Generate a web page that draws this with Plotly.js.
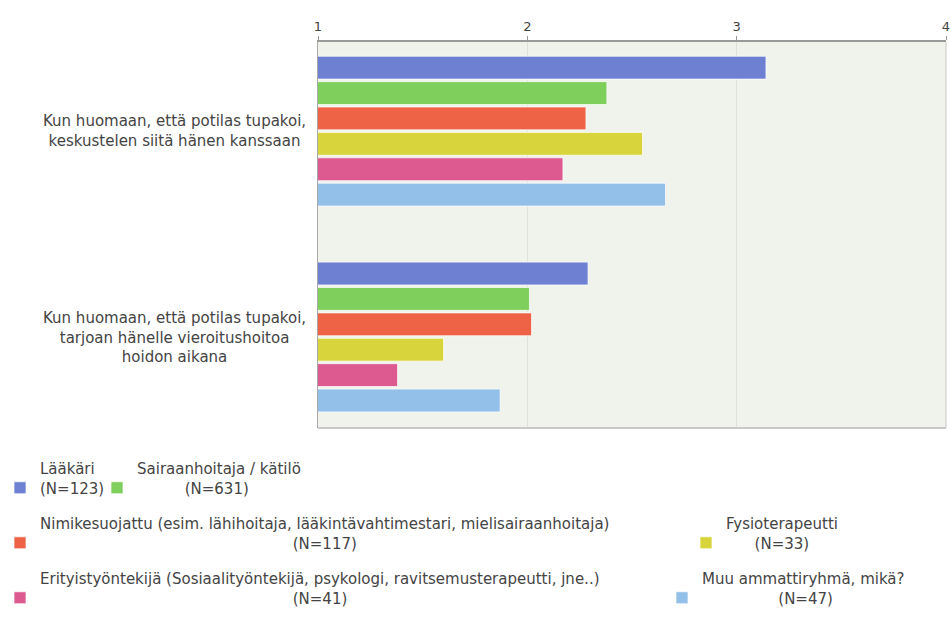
<!DOCTYPE html>
<html>
<head>
<meta charset="utf-8">
<script src="https://cdn.plot.ly/plotly-3.0.1.min.js"></script>
<style>html,body{margin:0;padding:0;background:#fff;}#chart{width:950px;height:621px;}</style>
</head>
<body>
<div id="chart"></div>
<script>
const categories = [
  "Kun huomaan, että potilas tupakoi,<br>keskustelen siitä hänen kanssaan",
  "Kun huomaan, että potilas tupakoi,<br>tarjoan hänelle vieroitushoitoa<br>hoidon aikana"
];
const seriesLabels = [
  "Lääkäri",
  "Sairaanhoitaja / kätilö",
  "Nimikesuojattu (esim. lähihoitaja, lääkintävahtimestari, mielisairaanhoitaja)",
  "Fysioterapeutti",
  "Erityistyöntekijä (Sosiaalityöntekijä, psykologi, ravitsemusterapeutti, jne..)",
  "Muu ammattiryhmä, mikä?"
];
const seriesN = ["(N=123)", "(N=631)", "(N=117)", "(N=33)", "(N=41)", "(N=47)"];
const lakari = [3.14, 2.29];
const sairaanhoitaja = [2.38, 2.01];
const nimikesuojattu = [2.28, 2.02];
const fysioterapeutti = [2.55, 1.60];
const erityistyontekija = [2.17, 1.38];
const muu = [2.66, 1.87];
const tickValues = [1, 2, 3, 4];

const seriesValues = [lakari, sairaanhoitaja, nimikesuojattu, fysioterapeutti, erityistyontekija, muu];
const colors = ["#6e80d2", "#7fcf5c", "#ee6346", "#d8d53c", "#dc5a90", "#92c0e8"];
// non-breaking-space padding to centre the second legend line under the first
const nPad = [0, 10, 53, 6, 53, 16];
// legend placement (container pixels)
const legPos = [[0, 452], [97, 452], [0, 507], [686, 507], [0, 562], [662, 562]];

const legendIds = seriesValues.map((_, i) => i === 0 ? "legend" : "legend" + (i + 1));

const traces = seriesValues.map((vals, i) => ({
  type: "bar",
  orientation: "h",
  name: seriesLabels[i] + "<br>" + "\u00a0".repeat(nPad[i]) + seriesN[i],
  y: categories,
  x: vals,
  legend: legendIds[i],
  marker: {color: colors[i], line: {color: "rgba(255,255,255,0.7)", width: 1}},
  hoverinfo: "x+name"
}));

const FONT = "DejaVu Sans, Verdana, sans-serif";
const W = 950, H = 621;

const layout = {
  width: W, height: H,
  margin: {l: 318, r: 4, t: 42, b: 193, autoexpand: false},
  paper_bgcolor: "#ffffff",
  plot_bgcolor: "#f0f3ec",
  barmode: "group",
  bargap: 0.26,
  bargroupgap: 0.1,
  font: {family: FONT, color: "#444"},
  xaxis: {
    side: "top", range: [1, 4], tickvals: tickValues, ticktext: tickValues.map(String),
    showgrid: true, gridcolor: "#dfe2da", gridwidth: 1,
    showline: true, linecolor: "#999", linewidth: 2, mirror: false,
    ticks: "outside", ticklen: 4, tickcolor: "#999", ticklabeloverflow: "allow",
    tickfont: {family: FONT, size: 13, color: "#444"}, zeroline: false, fixedrange: true
  },
  yaxis: {
    type: "category", range: [1.442, -0.433], showticklabels: false,
    showgrid: false, showline: true, linecolor: "#aaa", linewidth: 1, zeroline: false, fixedrange: true
  },
  shapes: [
    {type: "line", xref: "paper", yref: "paper", x0: 0, x1: 1, y0: 0, y1: 0, line: {color: "#c8c8c8", width: 2}},
    {type: "line", xref: "paper", yref: "paper", x0: 1, x1: 1, y0: 0, y1: 1, line: {color: "#c8c8c8", width: 1}}
  ],
  annotations: categories.map(c => ({
    text: c, xref: "paper", yref: "y", x: 0, y: c, xanchor: "right", xshift: -10,
    align: "center", showarrow: false,
    font: {family: FONT, size: 15, color: "#444"}
  })),
  showlegend: true
};

legendIds.forEach((id, i) => {
  layout[id] = {
    orientation: "h", xref: "container", yref: "container",
    x: legPos[i][0] / W, y: 1 - legPos[i][1] / H, xanchor: "left", yanchor: "top",
    font: {family: FONT, size: 15, color: "#444"}, bgcolor: "rgba(0,0,0,0)",
    itemwidth: 30, valign: "bottom", borderwidth: 0
  };
});

Plotly.newPlot("chart", traces, layout, {displayModeBar: false, staticPlot: true});
</script>
</body>
</html>
